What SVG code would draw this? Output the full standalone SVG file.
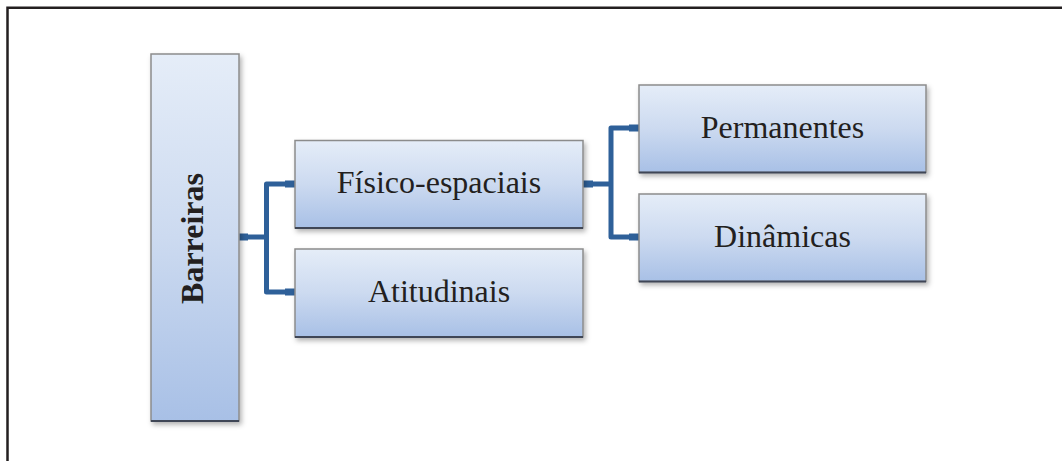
<svg xmlns="http://www.w3.org/2000/svg" width="1062" height="461" viewBox="0 0 1062 461">
<defs>
<linearGradient id="g" x1="0" y1="0" x2="0" y2="1">
<stop offset="0" stop-color="#E5EDF8"/>
<stop offset="0.5" stop-color="#CCDAF0"/>
<stop offset="1" stop-color="#A8C0E6"/>
</linearGradient>
<filter id="sh" x="-10%" y="-10%" width="130%" height="130%">
<feDropShadow dx="2" dy="3" stdDeviation="2.5" flood-color="#000" flood-opacity="0.3"/>
</filter>
<style>
.box{fill:url(#g);stroke:#8C8C8C;stroke-width:1.5;filter:url(#sh)}
.base{stroke:#3F4656;stroke-width:2}
.lbl{font-family:"Liberation Serif","Times New Roman",serif;font-size:32px;fill:#231F20;text-anchor:middle}
.b{font-weight:bold}
.con{fill:none;stroke:#2E6099;stroke-width:5;stroke-linejoin:round}
.stub{fill:#2E6099}
</style>
</defs>
<rect width="1062" height="461" fill="#FFFFFF"/>
<path d="M7.5 461 V7.8 H1062" fill="none" stroke="#231F20" stroke-width="2.5"/>
<g id="connectors">
<path class="con" d="M239 237 H266.5 V184 H295 M266.5 237 V292 H295"/>
<path class="con" d="M583 184 H611 V128 H639 M611 184 V237 H639"/>
<rect class="stub" x="239" y="233.5" width="9" height="7"/>
<rect class="stub" x="285" y="180.5" width="10" height="7"/>
<rect class="stub" x="285" y="288.5" width="10" height="7"/>
<rect class="stub" x="583" y="180.5" width="10" height="7"/>
<rect class="stub" x="629" y="124.5" width="10" height="7"/>
<rect class="stub" x="629" y="233.5" width="10" height="7"/>
</g>
<g id="barreiras">
<rect class="box" x="151" y="54" width="88" height="367"/>
<line class="base" x1="151" y1="421" x2="239" y2="421"/>
<text class="lbl b" transform="translate(203,238.5) rotate(-90)">Barreiras</text>
</g>
<g id="fisico">
<rect class="box" x="295" y="140.5" width="288" height="87.5"/>
<line class="base" x1="295" y1="228" x2="583" y2="228"/>
<text class="lbl" x="439" y="193">Físico-espaciais</text>
</g>
<g id="atitudinais">
<rect class="box" x="295" y="249" width="288" height="88"/>
<line class="base" x1="295" y1="337" x2="583" y2="337"/>
<text class="lbl" x="439" y="301.5">Atitudinais</text>
</g>
<g id="permanentes">
<rect class="box" x="639" y="85" width="287" height="87.5"/>
<line class="base" x1="639" y1="172.5" x2="926" y2="172.5"/>
<text class="lbl" x="782.5" y="138">Permanentes</text>
</g>
<g id="dinamicas">
<rect class="box" x="639" y="194" width="287" height="87.5"/>
<line class="base" x1="639" y1="281.5" x2="926" y2="281.5"/>
<text class="lbl" x="782.5" y="247">Dinâmicas</text>
</g>
</svg>
